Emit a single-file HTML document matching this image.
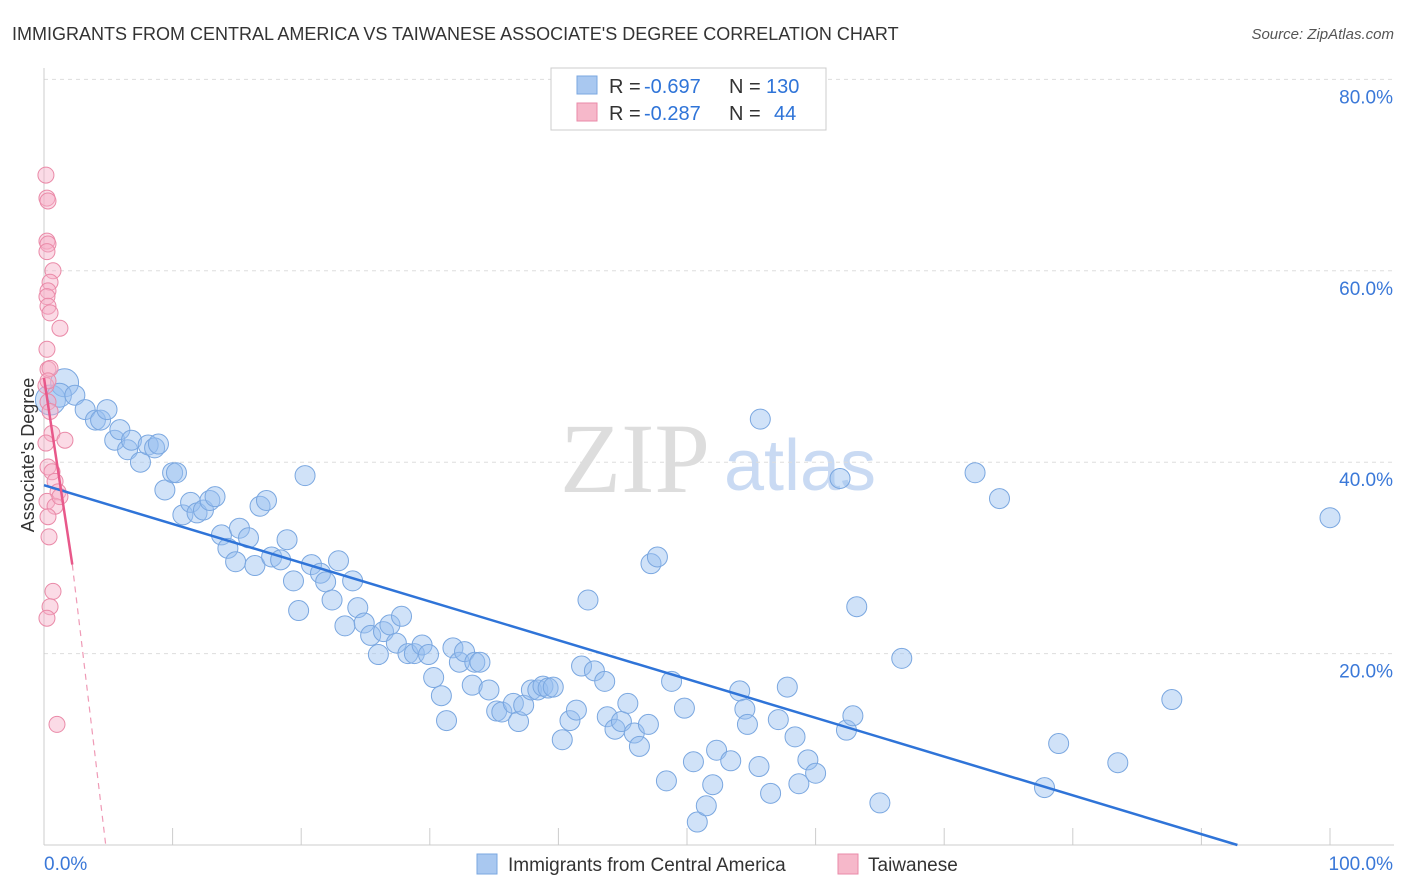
<!DOCTYPE html>
<html><head><meta charset="utf-8"><style>
body{margin:0;background:#fff;font-family:"Liberation Sans",sans-serif;}
svg{display:block}
</style></head><body>
<svg width="1406" height="892" id="chart">
<text x="12" y="40" font-size="18" fill="#333">IMMIGRANTS FROM CENTRAL AMERICA VS TAIWANESE ASSOCIATE'S DEGREE CORRELATION CHART</text>
<text x="1394" y="39" font-size="15" fill="#555" font-style="italic" text-anchor="end">Source: ZipAtlas.com</text>
<text x="635" y="492" font-size="100" fill="#ddd" font-family="Liberation Serif,serif" text-anchor="middle">ZIP</text>
<text x="800" y="490" font-size="72" fill="#c9daf3" text-anchor="middle">atlas</text>
<g id="grid"></g>
<g id="axes"></g>
<g id="points"></g>
<g id="lines"></g>
<text x="34" y="455" font-size="18" fill="#333" text-anchor="middle" transform="rotate(-90 34 455)">Associate's Degree</text>
<g>
<rect x="551" y="68" width="275" height="62" fill="#fff" stroke="#ccc"/>
<rect x="577" y="76" width="20" height="18" fill="#a9c8f0" stroke="#7aa7e0"/>
<rect x="577" y="103" width="20" height="18" fill="#f6b8ca" stroke="#ea8aa8"/>
<g font-size="20" fill="#333">
<text x="609" y="93">R =</text><text x="644" y="93" fill="#2f74d8">-0.697</text><text x="729" y="93">N =</text><text x="766" y="93" fill="#2f74d8">130</text></g>
<g font-size="20" fill="#333">
<text x="609" y="120">R =</text><text x="644" y="120" fill="#2f74d8">-0.287</text><text x="729" y="120">N =</text><text x="774" y="120" fill="#2f74d8">44</text></g>
</g>
<g>
<rect x="477" y="854" width="20" height="20" fill="#a9c8f0" stroke="#7aa7e0"/>
<text x="508" y="871" font-size="19" fill="#333">Immigrants from Central America</text>
<rect x="838" y="854" width="20" height="20" fill="#f6b8ca" stroke="#ea8aa8"/>
<text x="868" y="871" font-size="19" fill="#333">Taiwanese</text>
</g>
</svg>
<script>
const blueX=[0.5,1.6,1.2,2.4,3.2,4.0,4.4,4.9,5.5,5.9,6.5,6.8,7.5,8.1,8.6,8.9,9.4,10.0,10.3,10.8,11.4,11.9,12.4,12.9,13.3,13.8,14.3,14.9,15.2,15.9,16.4,16.8,17.3,17.7,18.4,18.9,19.4,19.8,20.3,20.8,21.5,21.9,22.4,22.9,23.4,24.0,24.4,24.9,25.4,26.0,26.4,26.9,27.4,27.8,28.3,28.8,29.4,29.9,30.3,30.9,31.3,31.8,32.3,32.7,33.3,33.5,33.9,34.6,35.2,35.6,36.5,36.9,37.3,37.9,38.4,38.8,39.2,39.6,40.3,40.9,41.4,41.8,42.3,42.8,43.6,43.8,44.4,44.9,45.4,45.9,46.3,47.0,47.2,47.7,48.4,48.8,49.8,50.5,50.8,51.5,52.0,52.3,53.4,54.1,54.5,54.7,55.6,55.7,56.5,57.1,57.8,58.4,58.7,59.4,60.0,61.9,62.4,62.9,63.2,65.0,66.7,72.4,74.3,77.8,78.9,83.5,87.7,100.0];
const blueY=[46.5,48.3,47.0,47.0,45.5,44.4,44.4,45.5,42.3,43.4,41.3,42.3,40.0,41.8,41.5,41.9,37.1,38.9,38.9,34.5,35.8,34.7,35.0,36.0,36.4,32.4,31.0,29.6,33.1,32.1,29.2,35.4,36.0,30.1,29.8,31.9,27.6,24.5,38.6,29.3,28.4,27.5,25.6,29.7,22.9,27.6,24.8,23.2,21.9,19.9,22.3,23.0,21.1,23.9,20.0,20.0,20.9,19.9,17.5,15.6,13.0,20.6,19.1,20.2,16.7,19.1,19.1,16.2,14.0,13.9,14.8,12.9,14.6,16.2,16.2,16.6,16.4,16.5,11.0,13.0,14.1,18.7,25.6,18.2,17.1,13.4,12.1,12.9,14.8,11.7,10.3,12.6,29.4,30.1,6.7,17.1,14.3,8.7,2.4,4.1,6.3,9.9,8.8,16.1,14.2,12.6,8.2,44.5,5.4,13.1,16.5,11.3,6.4,8.9,7.5,38.3,12.0,13.5,24.9,4.4,19.5,38.9,36.2,6.0,10.6,8.6,15.2,34.2];
const blueR=[15,14,12];
const pinkX=[0.15,0.23,0.31,0.23,0.31,0.23,0.70,0.47,0.31,0.23,0.31,0.47,1.24,0.23,0.31,0.47,0.15,0.31,0.47,0.62,1.63,0.31,0.62,0.86,1.09,0.23,0.86,0.31,0.39,0.70,0.47,0.23,1.01,0.31,0.15,1.24];
const pinkY=[70.0,67.6,67.3,63.1,62.8,62.0,60.0,58.8,57.9,57.3,56.3,55.6,54.0,51.8,49.7,49.8,48.0,46.3,45.3,43.0,42.3,39.5,39.0,38.0,36.9,35.9,35.4,34.3,32.2,26.5,24.9,23.7,12.6,48.5,42.0,36.4];
const yTicks=[20,40,60,80];
const blueLine=[[0,37.6],[92.8,0]];
const pinkLine=[[0,48.8],[2.2,29.3]];
const pinkDash=[[2.2,29.3],[4.8,0]];
const sx=v=>44+v*12.86, sy=v=>845-v*9.57;
const NS='http://www.w3.org/2000/svg';
function mk(tag,attrs,parent){const e=document.createElementNS(NS,tag);for(const k in attrs)e.setAttribute(k,attrs[k]);document.getElementById(parent).appendChild(e);return e;}
yTicks.forEach(t=>{
 const l=mk('line',{x1:44,x2:1394,y1:sy(t),y2:sy(t),stroke:'#ddd','stroke-dasharray':'4,4'},'grid');
 
 
 const tx=mk('text',{x:1393,y:sy(t)+24,'font-size':19,fill:'#3a78d8','text-anchor':'end'},'grid');
 tx.textContent=t.toFixed(1)+'%';
 
 
});
mk('line',{x1:44,x2:44,y1:68,y2:845,stroke:'#ccc'},'axes');
mk('line',{x1:44,x2:1394,y1:845,y2:845,stroke:'#ccc'},'axes');
for(let i=0;i<=10;i++){mk('line',{x1:sx(i*10),x2:sx(i*10),y1:828,y2:845,stroke:'#ccc'},'axes');}
let a=mk('text',{x:44,y:870,'font-size':19,fill:'#3a78d8'},'axes');a.textContent='0.0%';


a=mk('text',{x:1393,y:870,'font-size':19,fill:'#3a78d8','text-anchor':'end'},'axes');a.textContent='100.0%';


blueX.forEach((x,i)=>{
 const c=mk('circle',{cx:sx(x),cy:sy(blueY[i]),r:blueR[i]||10,fill:'rgba(150,190,240,0.45)',stroke:'#7aa7e0','stroke-width':1},'points');
 
 
});
pinkX.forEach((x,i)=>{
 const c=mk('circle',{cx:sx(x),cy:sy(pinkY[i]),r:8,fill:'rgba(246,175,200,0.45)',stroke:'#ea8aa8','stroke-width':1},'points');
 
 
});
let ln=mk('line',{x1:sx(blueLine[0][0]),y1:sy(blueLine[0][1]),x2:sx(blueLine[1][0]),y2:sy(blueLine[1][1]),stroke:'#2f74d8','stroke-width':2.5},'lines');


ln=mk('line',{x1:sx(pinkLine[0][0]),y1:sy(pinkLine[0][1]),x2:sx(pinkLine[1][0]),y2:sy(pinkLine[1][1]),stroke:'#e8588a','stroke-width':2.5},'lines');


ln=mk('line',{x1:sx(pinkDash[0][0]),y1:sy(pinkDash[0][1]),x2:sx(pinkDash[1][0]),y2:sy(pinkDash[1][1]),stroke:'#ef9ab6','stroke-width':1.2,'stroke-dasharray':'6,5'},'lines');


</script>
</body></html>
